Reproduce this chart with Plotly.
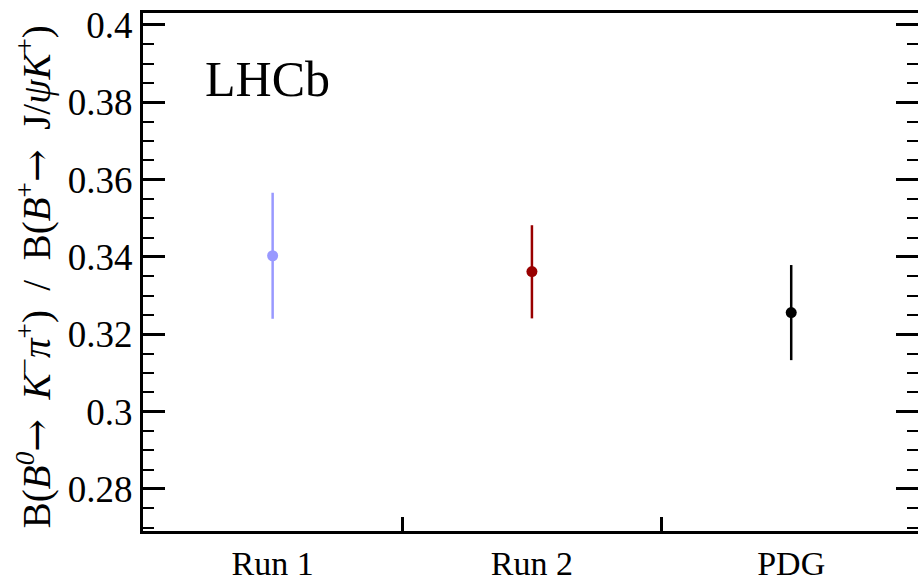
import plotly.graph_objects as go

categories = ["Run 1", "Run 2", "PDG"]
values = [0.3403, 0.3362, 0.3256]
err_up = [0.0163, 0.0120, 0.0123]
err_down = [0.0163, 0.0121, 0.0123]
colors = ["#9999ff", "#990000", "#000000"]

y_range = [0.2691, 0.4031]
y_ticks = [0.28, 0.30, 0.32, 0.34, 0.36, 0.38, 0.40]
y_ticktext = ["0.28", "0.3", "0.32", "0.34", "0.36", "0.38", "0.4"]

FONT = "Liberation Serif, Times New Roman, serif"
ARROW = '<span style="font-family:DejaVu Serif">→</span>\u00a0 '
SLASH = '\u00a0 / \u00a0'

fig = go.Figure()
for c, v, eu, ed, col in zip(categories, values, err_up, err_down, colors):
    fig.add_trace(go.Scatter(
        x=[c], y=[v], mode="markers",
        marker=dict(color=col, size=11),
        error_y=dict(type="data", symmetric=False, array=[eu], arrayminus=[ed],
                     color=col, thickness=2.5, width=0),
        showlegend=False, hoverinfo="x+y",
    ))

# invisible trace to anchor the right-hand tick axis
fig.add_trace(go.Scatter(x=[categories[0]], y=[values[0]], yaxis="y2",
                         mode="markers", marker=dict(opacity=0),
                         showlegend=False, hoverinfo="skip"))

fig.update_layout(
    width=918, height=581,
    margin=dict(l=143, r=0, t=13, b=50),
    paper_bgcolor="white", plot_bgcolor="white",
    font=dict(family=FONT, size=32, color="black"),
    xaxis=dict(
        type="category", categoryorder="array", categoryarray=categories,
        range=[-0.5, 2.489],
        showline=True, linecolor="black", linewidth=3, mirror=True,
        ticks="inside", tickson="boundaries", ticklen=14, tickwidth=2.5,
        tickcolor="black", showgrid=False, zeroline=False,
        tickfont=dict(family=FONT, size=34),
    ),
    yaxis=dict(
        range=y_range, tickvals=y_ticks, ticktext=y_ticktext,
        showline=True, linecolor="black", linewidth=3, mirror=False,
        ticks="inside", ticklen=22, tickwidth=2.5, tickcolor="black",
        minor=dict(dtick=0.005, tick0=0.28, ticks="inside", ticklen=11,
                   tickwidth=2, tickcolor="black", showgrid=False),
        showgrid=False, zeroline=False,
        tickfont=dict(family=FONT, size=37),
        ticklabelstandoff=0,
    ),
    yaxis2=dict(
        overlaying="y", side="right", range=y_range, tickvals=y_ticks,
        showline=False, showticklabels=False,
        ticks="inside", ticklen=22, tickwidth=2.5, tickcolor="black",
        minor=dict(dtick=0.005, tick0=0.28, ticks="inside", ticklen=11,
                   tickwidth=2, tickcolor="black", showgrid=False),
        showgrid=False, zeroline=False,
    ),
    annotations=[
        dict(text="LHCb", xref="paper", yref="paper", x=0.078, y=0.873,
             xanchor="left", yanchor="middle", showarrow=False,
             font=dict(family=FONT, size=50, color="black")),
        dict(text="B(<i>B</i><sup><i>0</i></sup>" + ARROW + "<i>K</i><sup>−</sup><i>π</i><sup>+</sup>)"
                  + SLASH + "B(<i>B</i><sup>+</sup>" + ARROW + "J/<i>ψ</i><i>K</i><sup>+</sup>)",
             xref="paper", yref="paper", x=-0.14, y=0.491, textangle=-90,
             xanchor="center", yanchor="middle", showarrow=False,
             font=dict(family=FONT, size=39, color="black")),
    ],
)

fig.write_html("out.html")
